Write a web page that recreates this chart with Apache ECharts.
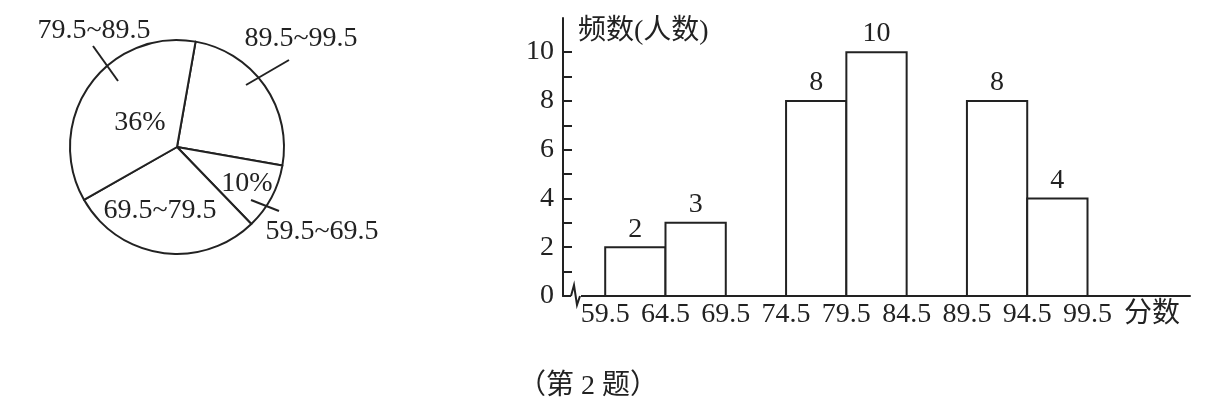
<!DOCTYPE html>
<html>
<head>
<meta charset="utf-8">
<title>第2题</title>
<script src="https://cdn.jsdelivr.net/npm/echarts@6/dist/echarts.min.js"></script>
<style>
html, body { margin: 0; padding: 0; background: #fff; }
#main { width: 1220px; height: 407px; }
</style>
</head>
<body>
<div id="main"></div>
<script>
// pie: score groups and their share (%), clockwise from the top
var pieNames = ['89.5~99.5', '59.5~69.5', '69.5~79.5', '79.5~89.5'];
var pieValues = [25, 10, 29, 36];
var piePercentText = ['', '10%', '', '36%'];

// histogram: only the bars that are drawn in the figure
var binStarts = [59.5, 64.5, 74.5, 79.5, 89.5, 94.5];
var binWidth = 5;
var binCounts = [2, 3, 8, 10, 8, 4];

var xTickLabels = [59.5, 64.5, 69.5, 74.5, 79.5, 84.5, 89.5, 94.5, 99.5];
var yTickLabels = [0, 2, 4, 6, 8, 10];
var yTicks = [0, 1, 2, 3, 4, 5, 6, 7, 8, 9, 10];

var FONT = "'Liberation Serif', 'Noto Sans CJK SC', serif";
var INK = '#222';

var pieCx = 177, pieCy = 147, pieR = 107;
// label spots, relative to the pie centre
var nameSpots = [
    {dx: 124, dy: -108, line: [[69, -62], [112, -87]]},
    {dx: 145, dy: 85, line: [[74, 53], [102, 64]]},
    {dx: -17, dy: 64},
    {dx: -83, dy: -116, line: [[-59, -66], [-84, -101]]}
];
var pctSpots = [null, {dx: 70, dy: 37}, null, {dx: -37, dy: -24}];

var myChart = echarts.init(document.getElementById('main'));

var barData = [];
for (var i = 0; i < binStarts.length; i++) {
    barData.push([binStarts[i], binStarts[i] + binWidth, binCounts[i]]);
}

var sliceData = [];
var nameData = [];
var pctData = [];
for (var i = 0; i < pieNames.length; i++) {
    sliceData.push({name: pieNames[i], value: pieValues[i]});
    nameData.push({
        name: pieNames[i],
        value: pieValues[i],
        labelLine: {show: !!nameSpots[i].line}
    });
    pctData.push({
        name: pieNames[i],
        value: pieValues[i],
        label: {show: !!piePercentText[i]}
    });
}

function renderBar(params, api) {
    var topLeft = api.coord([api.value(0), api.value(2)]);
    var bottomRight = api.coord([api.value(1), 0]);
    return {
        type: 'rect',
        shape: {
            x: topLeft[0],
            y: topLeft[1],
            width: bottomRight[0] - topLeft[0],
            height: bottomRight[1] - topLeft[1]
        },
        style: {fill: '#fff', stroke: INK, lineWidth: 2},
        textContent: {
            style: {text: String(api.value(2)), fontSize: 28, fontFamily: FONT, fill: INK}
        },
        textConfig: {position: 'top', distance: 3}
    };
}

// transparent copy of the pie, only used to carry labels
function labelPie(data, label, labelLine, labelLayout) {
    return {
        type: 'pie',
        z: 5,
        center: [pieCx, pieCy],
        radius: pieR,
        startAngle: 80,
        clockwise: true,
        silent: true,
        avoidLabelOverlap: false,
        itemStyle: {color: 'rgba(0,0,0,0)', borderWidth: 0},
        label: label,
        labelLine: labelLine,
        labelLayout: labelLayout,
        data: data
    };
}

option = {
    animation: false,
    backgroundColor: '#fff',
    title: {
        text: '（第 2 题）',
        left: 513,
        top: 368,
        textStyle: {fontSize: 28, fontWeight: 'normal', fontFamily: FONT, color: INK}
    },
    grid: {
        left: 563,
        right: 30,
        top: 18,
        bottom: 111
    },
    xAxis: {
        type: 'value',
        min: 56,
        max: 108,
        name: '分数',
        nameLocation: 'end',
        nameGap: -10,
        nameTextStyle: {
            fontSize: 28, fontFamily: FONT, color: INK,
            align: 'right', verticalAlign: 'top', padding: [5, 0, 0, 0]
        },
        splitLine: {show: false},
        axisTick: {show: false},
        axisLine: {lineStyle: {color: INK, width: 2}},
        axisLabel: {
            customValues: xTickLabels,
            margin: 5,
            fontSize: 28,
            fontFamily: FONT,
            color: INK
        }
    },
    yAxis: {
        type: 'value',
        min: 0,
        max: 11.4,
        name: '频数(人数)',
        nameLocation: 'end',
        nameGap: -14,
        nameTextStyle: {
            fontSize: 28, fontFamily: FONT, color: INK,
            align: 'left', verticalAlign: 'middle', padding: [0, 0, 0, 15]
        },
        splitLine: {show: false},
        axisLine: {show: true, lineStyle: {color: INK, width: 2}},
        axisTick: {
            show: true,
            inside: true,
            length: 9,
            customValues: yTicks,
            lineStyle: {color: INK, width: 2}
        },
        axisLabel: {
            customValues: yTickLabels,
            margin: 9,
            fontSize: 28,
            fontFamily: FONT,
            color: INK
        }
    },
    series: [{
        type: 'custom',
        renderItem: renderBar,
        encode: {x: [0, 1], y: 2},
        data: barData,
        silent: true
    }, {
        type: 'pie',
        z: 1,
        center: [pieCx, pieCy],
        radius: pieR,
        startAngle: 80,
        clockwise: true,
        silent: true,
        itemStyle: {color: '#fff', borderColor: INK, borderWidth: 2},
        label: {show: false},
        labelLine: {show: false},
        data: sliceData
    },
    labelPie(nameData, {
        show: true,
        position: 'outside',
        formatter: '{b}',
        fontSize: 28,
        fontFamily: FONT,
        color: INK
    }, {
        show: true,
        lineStyle: {color: INK, width: 2}
    }, function(p) {
        var s = nameSpots[p.dataIndex];
        var out = {x: pieCx + s.dx, y: pieCy + s.dy, align: 'center', verticalAlign: 'middle'};
        if (s.line) {
            var a = [pieCx + s.line[0][0], pieCy + s.line[0][1]];
            var b = [pieCx + s.line[1][0], pieCy + s.line[1][1]];
            out.labelLinePoints = [a, b, b];
        }
        return out;
    }),
    labelPie(pctData, {
        position: 'inside',
        formatter: function(p) { return piePercentText[p.dataIndex]; },
        fontSize: 28,
        fontFamily: FONT,
        color: INK
    }, {show: false}, function(p) {
        var s = pctSpots[p.dataIndex];
        if (!s) return {};
        return {x: pieCx + s.dx, y: pieCy + s.dy, align: 'center', verticalAlign: 'middle'};
    })]
};

myChart.setOption(option);

// axis break mark on the x axis, next to the origin
var o = myChart.convertToPixel({gridIndex: 0}, [56, 0]);
myChart.setOption({
    graphic: [{
        type: 'rect',
        shape: {x: o[0] + 8, y: o[1] - 3, width: 10, height: 6},
        style: {fill: '#fff'},
        z: 100
    }, {
        type: 'polyline',
        shape: {points: [[o[0] + 8, o[1]], [o[0] + 11, o[1] - 11], [o[0] + 14, o[1] + 9], [o[0] + 17, o[1]]]},
        style: {stroke: INK, lineWidth: 2, fill: null},
        z: 101
    }]
});
window.onresize = myChart.resize;
</script>
</body>
</html>
